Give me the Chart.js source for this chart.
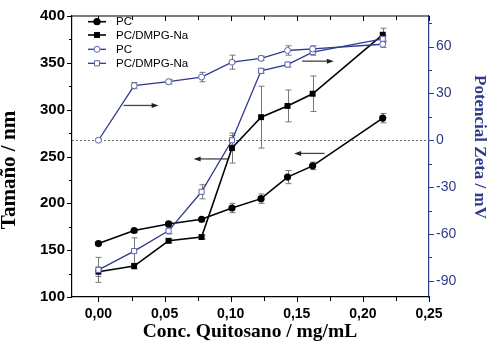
<!DOCTYPE html>
<html><head><meta charset="utf-8">
<script src="https://cdn.jsdelivr.net/npm/chart.js@4.4.0/dist/chart.umd.min.js"></script>
<style>html,body{margin:0;padding:0;background:#fff}#wrap{width:488px;height:346px}</style>
</head><body><div id="wrap"><canvas id="c" width="488" height="346"></canvas></div>
<script>
const xConc = [0, 0.027, 0.053, 0.078, 0.101, 0.123, 0.143, 0.162, 0.215];
const pcSize = [157, 171, 178, 183, 195, 205, 228, 240, 291];
const pcSizeErr = [2, 2, 2, 2, 5, 5, 7, 4, 5];
const dmpgSize = [127, 133, 160, 164, 259, 292, 304, 317, 380];
const dmpgSizeErr = [5, 3, 2, 2, 16, 33, 17, 19, 7];
const pcZeta = [0, 35, 37.5, 40.5, 50, 52.5, 57.5, 58.5, 61.5];
const pcZetaErr = [1, 2, 1.5, 3, 4.5, 1.5, 3, 2, 2];
const dmpgZeta = [-83, -71, -58, -33, 0, 44.5, 48.5, 56.5, 65];
const dmpgZetaErr = [8, 8.5, 2, 4.5, 3, 1.5, 1.5, 2, 2];
const seriesNames = ['PC', 'PC/DMPG-Na', 'PC', 'PC/DMPG-Na'];
const xTicks = [0, 0.05, 0.10, 0.15, 0.20, 0.25];
const yTicks = [100, 150, 200, 250, 300, 350, 400];
const y2Ticks = [-90, -60, -30, 0, 30, 60];
const xTitle = 'Conc. Quitosano / mg/mL';
const yTitle = 'Tamaño / nm';
const y2Title = 'Potencial Zeta / mV';
// arrows: start x, end x, y value (nm), direction
const arrowX0 = [0.019, 0.072, 0.154, 0.148];
const arrowX1 = [0.0455, 0.0985, 0.178, 0.171];
const arrowY = [304.5, 247.4, 351.8, 253.3];
const arrowDir = ['right', 'left', 'right', 'left'];

const BLUE = '#2e3a8c';
const MBLUE = '#5663b0';
const pts = (ys) => xConc.map((x, i) => ({x, y: ys[i]}));

const datasets = [
  {label: seriesNames[2], data: pts(pcZeta), err: pcZetaErr, yAxisID: 'y2', borderColor: BLUE, borderWidth: 1.3,
   pointStyle: 'circle', pointRadius: 3, pointBackgroundColor: '#fff', pointBorderColor: MBLUE, pointBorderWidth: 1},
  {label: seriesNames[3], data: pts(dmpgZeta), err: dmpgZetaErr, yAxisID: 'y2', borderColor: BLUE, borderWidth: 1.3,
   pointStyle: 'rect', pointRadius: 3.6, pointBackgroundColor: '#fff', pointBorderColor: MBLUE, pointBorderWidth: 1},
  {label: seriesNames[0], data: pts(pcSize), err: pcSizeErr, yAxisID: 'y', borderColor: '#000', borderWidth: 1.6,
   pointStyle: 'circle', pointRadius: 3.6, pointBackgroundColor: '#000', pointBorderColor: '#000', pointBorderWidth: 0},
  {label: seriesNames[1], data: pts(dmpgSize), err: dmpgSizeErr, yAxisID: 'y', borderColor: '#000', borderWidth: 1.6,
   pointStyle: 'rect', pointRadius: 4.2, pointBackgroundColor: '#000', pointBorderColor: '#000', pointBorderWidth: 0}
];

function near(v, step) { return Math.abs(v / step - Math.round(v / step)) < 1e-6; }

const decor = {
  id: 'decor',
  beforeDatasetsDraw(chart) {
    const ctx = chart.ctx, a = chart.chartArea;
    const x = chart.scales.x, y = chart.scales.y, y2 = chart.scales.y2;
    ctx.save();
    ctx.strokeStyle = '#666'; ctx.lineWidth = 1; ctx.setLineDash([2, 2]);
    const zy = Math.round(y2.getPixelForValue(0)) + 0.5;
    ctx.beginPath(); ctx.moveTo(a.left, zy); ctx.lineTo(a.right, zy); ctx.stroke();
    ctx.setLineDash([]);
    ctx.strokeStyle = '#777'; ctx.lineWidth = 1;
    chart.data.datasets.forEach(ds => {
      const sc = chart.scales[ds.yAxisID];
      ds.data.forEach((p, i) => {
        const e = ds.err[i]; if (!e) return;
        const px = Math.round(x.getPixelForValue(p.x)) + 0.5;
        const t = sc.getPixelForValue(p.y + e), b = sc.getPixelForValue(p.y - e);
        ctx.beginPath();
        ctx.moveTo(px, t); ctx.lineTo(px, b);
        ctx.moveTo(px - 3, t); ctx.lineTo(px + 3, t);
        ctx.moveTo(px - 3, b); ctx.lineTo(px + 3, b);
        ctx.stroke();
      });
    });
    ctx.strokeStyle = '#444'; ctx.fillStyle = '#222'; ctx.lineWidth = 1.3;
    arrowX0.forEach((x0v, i) => {
      const x0 = x.getPixelForValue(x0v), x1 = x.getPixelForValue(arrowX1[i]);
      const py = y.getPixelForValue(arrowY[i]);
      const tip = arrowDir[i] === 'right' ? x1 : x0;
      const tail = arrowDir[i] === 'right' ? x0 : x1;
      const d = arrowDir[i] === 'right' ? -1 : 1;
      ctx.beginPath(); ctx.moveTo(tail, py); ctx.lineTo(tip + d * 5, py); ctx.stroke();
      ctx.beginPath(); ctx.moveTo(tip, py); ctx.lineTo(tip + d * 7, py - 2.5); ctx.lineTo(tip + d * 7, py + 2.5); ctx.closePath(); ctx.fill();
    });
    ctx.restore();
  },
  afterDraw(chart) {
    const ctx = chart.ctx, a = chart.chartArea;
    const x = chart.scales.x, y = chart.scales.y, y2 = chart.scales.y2;
    ctx.save();
    ctx.strokeStyle = '#000'; ctx.lineWidth = 1.2;
    ctx.beginPath(); ctx.moveTo(a.left, a.top); ctx.lineTo(a.right, a.top); ctx.stroke();
    ctx.lineWidth = 1;
    for (let v = 0; v <= 0.2501; v += 0.025) {
      const px = Math.round(x.getPixelForValue(v)) + 0.5;
      const L = near(v, 0.05) ? 5 : 4;
      ctx.beginPath();
      ctx.moveTo(px, a.bottom); ctx.lineTo(px, a.bottom + L);
      ctx.moveTo(px, a.top); ctx.lineTo(px, a.top + L);
      ctx.stroke();
    }
    for (let v = 100; v <= 400; v += 25) {
      const py = Math.round(y.getPixelForValue(v)) + 0.5;
      const L = v % 50 === 0 ? 5 : 3;
      ctx.beginPath(); ctx.moveTo(a.left, py); ctx.lineTo(a.left - L, py); ctx.stroke();
    }
    ctx.strokeStyle = BLUE;
    for (let v = -90; v <= 75; v += 15) {
      const py = Math.round(y2.getPixelForValue(v)) + 0.5;
      const L = v % 30 === 0 ? 5 : 3;
      ctx.beginPath(); ctx.moveTo(a.right, py); ctx.lineTo(a.right + L, py); ctx.stroke();
    }
    const serif = '"Liberation Serif", "Times New Roman", serif';
    ctx.fillStyle = '#000';
    ctx.textAlign = 'center'; ctx.textBaseline = 'middle';
    ctx.font = 'bold 19.5px ' + serif;
    ctx.fillText(xTitle, 250, 332);
    ctx.font = 'bold 21px ' + serif;
    ctx.save(); ctx.translate(10, 170); ctx.rotate(-Math.PI / 2); ctx.fillText(yTitle, 0, 0); ctx.restore();
    ctx.fillStyle = BLUE;
    ctx.font = 'bold 17px ' + serif;
    ctx.save(); ctx.translate(479, 147); ctx.rotate(Math.PI / 2); ctx.fillText(y2Title, 0, 0); ctx.restore();
    const rows = [21.7, 35, 49.3, 63.3];
    const order = [2, 3, 0, 1];
    ctx.font = '11.5px "Liberation Sans", Arial, sans-serif';
    ctx.textAlign = 'left';
    order.forEach((di, r) => {
      const ds = chart.data.datasets[di];
      const ry = rows[r];
      ctx.strokeStyle = ds.borderColor; ctx.lineWidth = ds.borderWidth;
      ctx.beginPath(); ctx.moveTo(88, ry); ctx.lineTo(106, ry); ctx.stroke();
      ctx.fillStyle = ds.pointBackgroundColor; ctx.strokeStyle = ds.pointBorderColor; ctx.lineWidth = ds.pointBorderWidth || 1;
      ctx.beginPath();
      if (ds.pointStyle === 'circle') ctx.arc(97, ry, ds.pointRadius, 0, Math.PI * 2);
      else { const s = ds.pointRadius * Math.SQRT1_2; ctx.rect(97 - s, ry - s, 2 * s, 2 * s); }
      ctx.fill(); if (ds.pointBorderWidth) ctx.stroke();
      ctx.fillStyle = '#000';
      ctx.fillText(ds.label, 116, ry + 0.5);
    });
    ctx.restore();
  }
};

new Chart(document.getElementById('c'), {
  type: 'line',
  data: {datasets},
  options: {
    responsive: false, animation: false,
    layout: {padding: {top: 10, left: 0, right: 0, bottom: 0}},
    plugins: {legend: {display: false}, tooltip: {enabled: false}},
    elements: {line: {tension: 0}},
    scales: {
      x: {
        type: 'linear', min: -0.02, max: 0.25,
        afterBuildTicks: s => { s.ticks = xTicks.map(v => ({value: v})); },
        afterFit: s => { s.height = 49; },
        ticks: {padding: 9, color: '#000', font: {family: '"Liberation Sans", Arial, sans-serif', size: 14, weight: 'bold'},
          callback: v => Number(v).toFixed(2).replace('.', ','), maxRotation: 0, autoSkip: false},
        grid: {drawOnChartArea: false, drawTicks: false},
        border: {display: true, color: '#000', width: 1.2}
      },
      y: {
        type: 'linear', position: 'left', min: 100, max: 400,
        afterBuildTicks: s => { s.ticks = yTicks.map(v => ({value: v})); },
        afterFit: s => { s.width = 72; },
        ticks: {padding: 7, color: '#000', autoSkip: false, font: {family: '"Liberation Sans", Arial, sans-serif', size: 15, weight: 'bold'}},
        grid: {drawOnChartArea: false, drawTicks: false},
        border: {display: true, color: '#000', width: 1.2}
      },
      y2: {
        type: 'linear', position: 'right', min: -100.4, max: 79.6,
        afterBuildTicks: s => { s.ticks = y2Ticks.map(v => ({value: v})); },
        afterFit: s => { s.width = 59; },
        ticks: {padding: 7, color: BLUE, autoSkip: false, font: {family: '"Liberation Sans", Arial, sans-serif', size: 14}},
        grid: {drawOnChartArea: false, drawTicks: false},
        border: {display: true, color: BLUE, width: 1.2}
      }
    }
  },
  plugins: [decor]
});
</script></body></html>
